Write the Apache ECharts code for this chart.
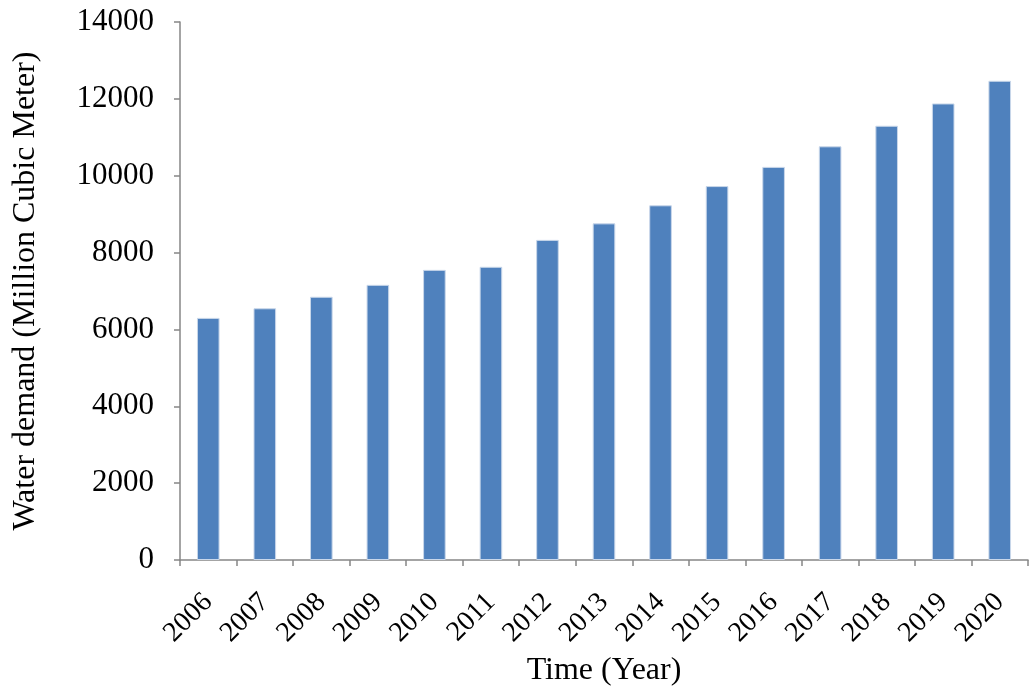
<!DOCTYPE html>
<html>
<head>
<meta charset="utf-8">
<script src="https://cdn.jsdelivr.net/npm/echarts@6/dist/echarts.min.js"></script>
<style>
html,body{margin:0;padding:0;background:#fff;}
#c{width:1030px;height:688px;}
</style>
</head>
<body>
<div id="c"></div>
<script>
const years = ['2006','2007','2008','2009','2010','2011','2012','2013','2014','2015','2016','2017','2018','2019','2020'];
const demand = [6300, 6550, 6850, 7160, 7550, 7630, 8330, 8760, 9230, 9730, 10230, 10765, 11300, 11880, 12470];
const yTicks = [0, 2000, 4000, 6000, 8000, 10000, 12000, 14000];

const chart = echarts.init(document.getElementById('c'));
const font = 'Liberation Serif, Times New Roman, serif';
chart.setOption({
  animation: false,
  grid: {left: 180, right: 2, top: 22, bottom: 128, containLabel: false, outerBoundsMode: 'none'},
  xAxis: {
    type: 'category',
    data: years,
    name: 'Time (Year)',
    nameLocation: 'middle',
    nameGap: 95,
    nameTextStyle: {fontFamily: font, fontSize: 32, color: '#000'},
    axisLine: {lineStyle: {color: '#868686', width: 1.5}},
    axisTick: {show: true, alignWithLabel: false, length: 6, lineStyle: {color: '#868686', width: 1.5}},
    axisLabel: {rotate: 45, fontFamily: font, fontSize: 28, color: '#000', margin: 38, interval: 0}
  },
  yAxis: {
    type: 'value',
    min: yTicks[0],
    max: yTicks[yTicks.length - 1],
    interval: 2000,
    name: 'Water demand (Million Cubic Meter)',
    nameLocation: 'middle',
    nameGap: 138,
    nameTextStyle: {fontFamily: font, fontSize: 32, color: '#000'},
    axisLine: {show: true, lineStyle: {color: '#868686', width: 1.5}},
    axisTick: {show: true, length: 6, lineStyle: {color: '#868686', width: 1.5}},
    axisLabel: {fontFamily: font, fontSize: 31, color: '#000', margin: 26, formatter: v => String(v)},
    splitLine: {show: false}
  },
  series: [{
    type: 'bar',
    data: demand,
    barWidth: '40%',
    itemStyle: {color: '#4F81BD', borderColor: '#C9D7EA', borderWidth: 1}
  }]
});
</script>
</body>
</html>
